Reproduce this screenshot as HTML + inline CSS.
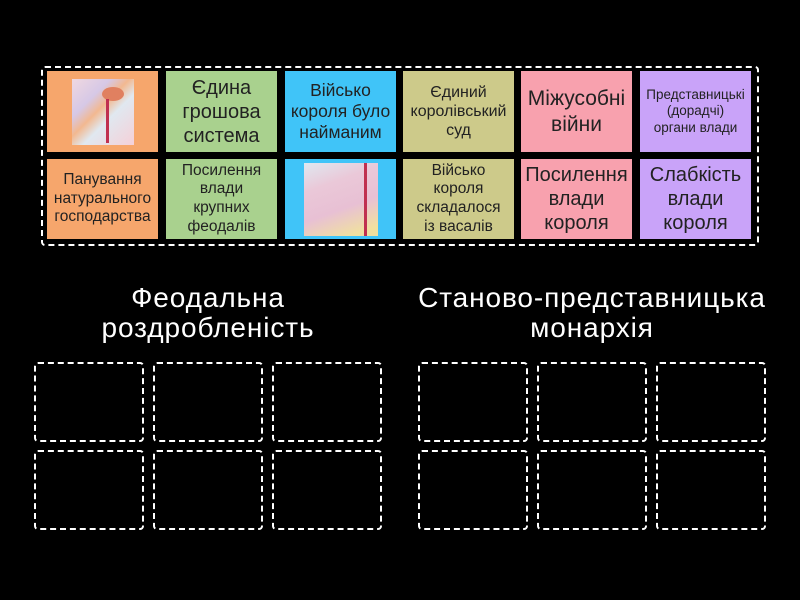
<!DOCTYPE html>
<html><head><meta charset="utf-8"><style>
body{margin:0;width:800px;height:600px;background:#000;position:relative;overflow:hidden;font-family:"Liberation Sans","DejaVu Sans",sans-serif}
.outer{position:absolute;left:41px;top:66px;width:714px;height:176px;border:2px dashed #fff;border-radius:4px}
.t{position:absolute;width:111px;display:flex;align-items:center;justify-content:center;text-align:center;color:#222;line-height:1.2;white-space:nowrap}
.d{position:absolute;width:106px;height:76px;border:2px dashed #fff;border-radius:4px}
.h{position:absolute;color:#fff;font-size:28px;letter-spacing:0.9px;text-align:center;line-height:30px;white-space:nowrap}
.o{background:#f6a66c}.g{background:#a9d18e}.b{background:#40c4f8}.y{background:#cdca8a}.p{background:#f8a1ae}.v{background:#c9a3f9}
</style></head><body>
<div class="outer"></div>
<div class="t o" style="left:47px;top:71px;height:81px"><div style="width:62px;height:66px;background:linear-gradient(135deg,#f0d8e0 0%,#d6c8e6 30%,#f2b890 45%,#e0e8f0 60%,#f5d0d8 100%);position:relative"><div style="position:absolute;left:30px;top:8px;width:22px;height:14px;background:#e08060;border-radius:50%"></div><div style="position:absolute;left:34px;top:20px;width:3px;height:44px;background:#c03050"></div></div></div>
<div class="t g" style="left:166px;top:71px;height:81px;font-size:20px">Єдина<br>грошова<br>система</div>
<div class="t b" style="left:285px;top:71px;height:81px;font-size:17.5px">Військо<br>короля було<br>найманим</div>
<div class="t y" style="left:403px;top:71px;height:81px;font-size:16px">Єдиний<br>королівський<br>суд</div>
<div class="t p" style="left:521px;top:71px;height:81px;font-size:21px">Міжусобні<br>війни</div>
<div class="t v" style="left:640px;top:71px;height:81px;font-size:13.5px">Представницькі<br>(дорадчі)<br>органи влади</div>
<div class="t o" style="left:47px;top:159px;height:80px;font-size:15.5px">Панування<br>натурального<br>господарства</div>
<div class="t g" style="left:166px;top:159px;height:80px;font-size:15.5px">Посилення<br>влади<br>крупних<br>феодалів</div>
<div class="t b" style="left:285px;top:159px;height:80px"><div style="width:74px;height:73px;background:linear-gradient(160deg,#dfe8f0 0%,#eac8d8 30%,#e8c0d4 60%,#f0e0a0 90%);position:relative"><div style="position:absolute;left:60px;top:0;width:3px;height:73px;background:#c03050"></div></div></div>
<div class="t y" style="left:403px;top:159px;height:80px;font-size:15.5px">Військо<br>короля<br>складалося<br>із васалів</div>
<div class="t p" style="left:521px;top:159px;height:80px;font-size:20px">Посилення<br>влади<br>короля</div>
<div class="t v" style="left:640px;top:159px;height:80px;font-size:20px">Слабкість<br>влади<br>короля</div>
<div class="h" style="left:58px;top:283px;width:300px">Феодальна<br>роздробленість</div>
<div class="h" style="left:392px;top:283px;width:400px">Станово-представницька<br>монархія</div>
<div class="d" style="left:34px;top:362px"></div><div class="d" style="left:153px;top:362px"></div><div class="d" style="left:272px;top:362px"></div>
<div class="d" style="left:34px;top:450px"></div><div class="d" style="left:153px;top:450px"></div><div class="d" style="left:272px;top:450px"></div>
<div class="d" style="left:418px;top:362px"></div><div class="d" style="left:537px;top:362px"></div><div class="d" style="left:656px;top:362px"></div>
<div class="d" style="left:418px;top:450px"></div><div class="d" style="left:537px;top:450px"></div><div class="d" style="left:656px;top:450px"></div>
</body></html>
